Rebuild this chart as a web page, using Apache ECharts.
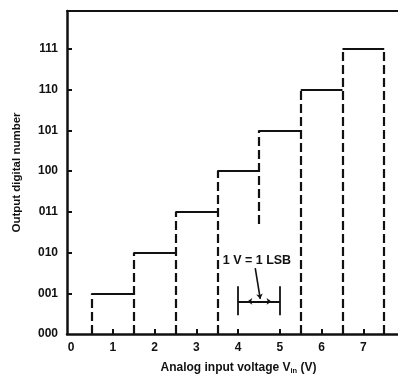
<!DOCTYPE html>
<html>
<head>
<meta charset="utf-8">
<script src="https://cdn.jsdelivr.net/npm/echarts@6/dist/echarts.min.js"></script>
<style>html,body{margin:0;padding:0;background:#fff}#c{width:398px;height:380px}</style>
</head>
<body>
<div id="c"></div>
<script>
// ---- data ----
const xTickValues = [0, 1, 2, 3, 4, 5, 6, 7];
const xTickLabels = ['0', '1', '2', '3', '4', '5', '6', '7'];
const yTickValues = [0, 1, 2, 3, 4, 5, 6, 7];
const yTickLabels = ['000', '001', '010', '011', '100', '101', '110', '111'];

// quantizer steps: output code held from stepStart to stepEnd
const stepStart = [0.5, 1.5, 2.5, 3.5, 4.5, 5.5, 6.5];
const stepEnd   = [1.5, 2.5, 3.5, 4.5, 5.5, 6.5, 7.5];
const stepLevel = [1, 2, 3, 4, 5, 6, 7];

// dashed transition lines
const dashX    = [0.5, 1.5, 2.5, 3.5, 4.5, 5.5, 6.5, 7.5];
const dashFrom = [0, 0, 0, 0, 2.7, 0, 0, 0];
const dashTo   = [1, 2, 3, 4, 5, 6, 7, 7];

// "1 V = 1 LSB" annotation
const lsbText = '1 V = 1 LSB';
const lsbTextPos = [4.45, 1.8];
const lsbBracketX = [4, 5];
const lsbBracketY = [0.46, 1.17];
const lsbSpanY = 0.8;
const lsbArrowTips = [4.22, 4.8];
const lsbPointer = [[4.41, 1.62], [4.53, 0.86]];

const ink = '#111';
const fontFam = '"Liberation Sans", Arial, sans-serif';

const solidTops = stepLevel.map((v, i) => ({coords: [[stepStart[i], v], [stepEnd[i], v]]}));
const dashLines = dashX.map((x, i) => ({coords: [[x, dashFrom[i]], [x, dashTo[i]]]}));
const bracket = lsbBracketX.map(x => ({coords: [[x, lsbBracketY[0]], [x, lsbBracketY[1]]]}))
  .concat([{coords: [[lsbBracketX[0], lsbSpanY], [lsbBracketX[1], lsbSpanY]]}]);
const mid = (lsbBracketX[0] + lsbBracketX[1]) / 2;
const arrows = lsbArrowTips.map(x => ({coords: [[mid, lsbSpanY], [x, lsbSpanY]]}))
  .concat([{coords: lsbPointer}]);

const chart = echarts.init(document.getElementById('c'), null, {renderer: 'canvas'});
chart.setOption({
  animation: false,
  backgroundColor: '#fff',
  grid: {left: 67, right: 0, top: 11, bottom: 44, containLabel: false},
  xAxis: [{
    type: 'value', min: -0.1, max: 7.83,
    splitLine: {show: false},
    axisLine: {show: true, onZero: false, lineStyle: {color: ink, width: 2.5}},
    axisTick: {show: true, inside: true, length: 5, customValues: xTickValues.slice(1), lineStyle: {color: ink, width: 2}},
    axisLabel: {customValues: xTickValues, formatter: v => xTickLabels[xTickValues.indexOf(v)],
      color: ink, fontSize: 12, fontWeight: 'bold', fontFamily: fontFam, margin: 8},
    name: '{a|Analog input voltage V}{s|in}{a| (V)}',
    nameLocation: 'middle', nameGap: 27,
    nameTextStyle: {padding: [0, 0, 0, 12], rich: {
      a: {fontSize: 12, fontWeight: 'bold', color: ink, fontFamily: fontFam},
      s: {fontSize: 7.5, fontWeight: 'bold', color: ink, fontFamily: fontFam, verticalAlign: 'bottom', padding: [6, 0, 0, 0]}
    }}
  }, {
    type: 'value', position: 'top', min: -0.1, max: 7.83,
    splitLine: {show: false},
    axisLine: {show: true, onZero: false, lineStyle: {color: ink, width: 1.8}},
    axisTick: {show: false}, axisLabel: {show: false}
  }],
  yAxis: {
    type: 'value', min: 0, max: 7.93,
    splitLine: {show: false},
    axisLine: {show: true, onZero: false, lineStyle: {color: ink, width: 2.5}},
    axisTick: {show: true, inside: true, length: 5, customValues: yTickValues.slice(1), lineStyle: {color: ink, width: 2}},
    axisLabel: {customValues: yTickValues, formatter: v => yTickLabels[yTickValues.indexOf(v)],
      color: ink, fontSize: 12, fontWeight: 'bold', fontFamily: fontFam, margin: 9},
    name: 'Output digital number',
    nameLocation: 'middle', nameGap: 44, nameRotate: 90,
    nameTextStyle: {fontSize: 11.5, fontWeight: 'bold', color: ink, fontFamily: fontFam}
  },
  series: [
    {type: 'lines', coordinateSystem: 'cartesian2d', silent: true,
      lineStyle: {color: ink, width: 2.2, type: 'solid', opacity: 1}, data: solidTops},
    {type: 'lines', coordinateSystem: 'cartesian2d', silent: true,
      lineStyle: {color: ink, width: 2.2, type: [9, 4], opacity: 1}, data: dashLines},
    {type: 'lines', coordinateSystem: 'cartesian2d', silent: true,
      lineStyle: {color: ink, width: 1.8, opacity: 1}, data: bracket},
    {type: 'lines', coordinateSystem: 'cartesian2d', silent: true,
      symbol: ['none', 'arrow'], symbolSize: 5,
      lineStyle: {color: ink, width: 1.6, opacity: 1}, data: arrows},
    {type: 'scatter', silent: true, symbolSize: 0, itemStyle: {color: ink, opacity: 1}, data: [lsbTextPos],
      label: {show: true, position: 'inside', formatter: lsbText, color: ink, opacity: 1,
        textBorderWidth: 0, fontSize: 12.5, fontWeight: 'bold', fontFamily: fontFam}}
  ]
});
</script>
</body>
</html>
